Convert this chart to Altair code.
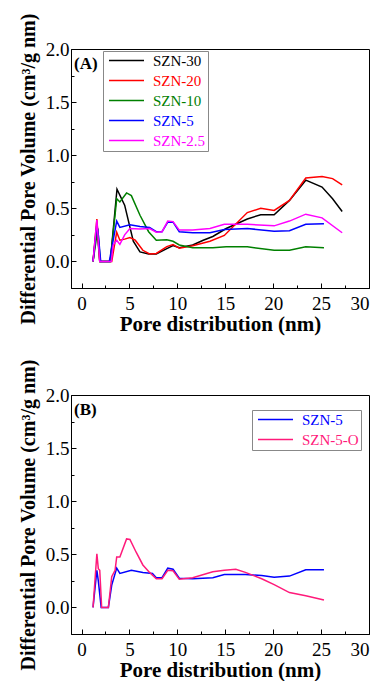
import altair as alt
import pandas as pd

FONT = "Liberation Serif"

# ---------- Panel A data ----------
a_names = ["SZN-30", "SZN-20", "SZN-10", "SZN-5", "SZN-2.5"]
a_colors = ["#000000", "#ff0000", "#008000", "#0000ff", "#ff00ff"]

szn30_x = [1.2, 1.6, 1.9, 3.0, 3.7, 4.5, 5.4, 6.1, 7.0, 7.8, 8.9, 9.55, 10.2, 11.6, 12.7, 13.7, 15.1, 17.3, 18.7, 20.1, 21.7, 23.4, 25.1, 26.2, 27.2]
szn30_y = [0, 0.33, 0, 0, 0.68, 0.53, 0.19, 0.09, 0.07, 0.07, 0.12, 0.15, 0.13, 0.155, 0.20, 0.235, 0.31, 0.40, 0.44, 0.44, 0.575, 0.765, 0.70, 0.59, 0.47]

szn20_x = [1.2, 1.6, 1.9, 3.15, 3.67, 4.0, 4.5, 5.05, 5.6, 6.4, 7.1, 7.8, 8.9, 9.55, 10.2, 11.6, 13.4, 14.9, 17.3, 18.7, 20.1, 21.7, 23.4, 25.1, 26.2, 27.2]
szn20_y = [0, 0.40, 0, 0, 0.275, 0.20, 0.21, 0.225, 0.20, 0.105, 0.07, 0.075, 0.14, 0.16, 0.125, 0.147, 0.19, 0.245, 0.46, 0.50, 0.48, 0.575, 0.785, 0.80, 0.78, 0.72]

szn10_x = [1.2, 1.7, 1.95, 3.0, 3.67, 4.0, 4.7, 5.2, 6.1, 7.0, 7.8, 8.9, 9.55, 10.2, 11.6, 13.7, 15.1, 17.3, 20.1, 21.7, 23.4, 25.3]
szn10_y = [0, 0.31, 0, 0, 0.59, 0.56, 0.645, 0.62, 0.435, 0.28, 0.20, 0.205, 0.19, 0.155, 0.13, 0.13, 0.138, 0.138, 0.105, 0.105, 0.138, 0.13]

szn5_x = [1.2, 1.6, 1.75, 2.0, 2.9, 3.15, 3.67, 4.0, 5.05, 6.1, 7.1, 7.8, 8.4, 9.0, 9.55, 10.2, 11.6, 13.4, 14.9, 17.3, 20.1, 21.7, 23.4, 25.3]
szn5_y = [0, 0.35, 0.25, 0, 0, 0.125, 0.38, 0.32, 0.345, 0.33, 0.32, 0.28, 0.28, 0.37, 0.37, 0.28, 0.27, 0.27, 0.30, 0.31, 0.285, 0.29, 0.35, 0.355]

szn25_x = [1.2, 1.6, 1.9, 3.1, 3.3, 3.67, 4.0, 4.5, 5.05, 6.1, 7.1, 7.8, 8.4, 9.0, 9.55, 10.2, 11.6, 13.4, 14.9, 17.3, 20.1, 21.7, 23.4, 25.1, 27.2]
szn25_y = [0, 0.39, 0, 0, 0.155, 0.20, 0.16, 0.25, 0.31, 0.305, 0.31, 0.275, 0.28, 0.38, 0.375, 0.295, 0.295, 0.31, 0.35, 0.35, 0.335, 0.38, 0.445, 0.41, 0.27]

# ---------- Panel B data ----------
b_names = ["SZN-5", "SZN-5-O"]
b_colors = ["#0000ff", "#ff1a7a"]

b5_x = [1.2, 1.6, 1.75, 2.05, 2.8, 3.15, 3.67, 4.0, 5.2, 6.4, 7.4, 7.8, 8.4, 9.0, 9.55, 10.2, 11.6, 13.7, 14.9, 17.1, 18.8, 20.1, 21.7, 23.4, 25.3]
b5_y = [0, 0.35, 0.25, 0, 0, 0.21, 0.37, 0.32, 0.35, 0.33, 0.32, 0.28, 0.28, 0.37, 0.36, 0.275, 0.27, 0.28, 0.31, 0.31, 0.30, 0.285, 0.295, 0.355, 0.355]

b5o_x = [1.2, 1.6, 1.75, 1.9, 2.1, 2.8, 3.15, 3.5, 3.67, 4.0, 4.7, 5.05, 5.7, 6.4, 7.1, 7.8, 8.4, 9.0, 9.55, 10.2, 11.6, 13.7, 14.9, 16.1, 17.1, 18.8, 20.1, 21.7, 23.4, 25.3]
b5o_y = [0, 0.505, 0.365, 0.35, 0, 0, 0.29, 0.35, 0.475, 0.475, 0.645, 0.64, 0.52, 0.40, 0.33, 0.27, 0.27, 0.35, 0.345, 0.265, 0.28, 0.335, 0.35, 0.36, 0.33, 0.27, 0.215, 0.14, 0.11, 0.07]

x_ticks = [i * 2.5 for i in range(13)]
y_ticks = [i * 0.25 for i in range(9)]


def long_df(names, xs, ys):
    rows = []
    for n, xl, yl in zip(names, xs, ys):
        for i, (xv, yv) in enumerate(zip(xl, yl)):
            rows.append({"series": n, "x": xv, "y": yv, "o": i})
    return pd.DataFrame(rows)


def color_expr(names, colors):
    expr = "'black'"
    for n, c in reversed(list(zip(names, colors))):
        expr = f"datum.value === '{n}' ? '{c}' : ({expr})"
    return expr


def panel(df, names, colors, tag, lx, ly):
    xaxis = alt.Axis(
        values=x_ticks,
        labelExpr="datum.value % 5 === 0 ? format(datum.value, 'd') : ''",
        tickSize={"condition": {"test": "datum.value % 5 === 0", "value": -5}, "value": -3},
        labelPadding=11,
        title="Pore distribution (nm)",
        titlePadding=0,
        grid=False,
    )
    yaxis = alt.Axis(
        values=y_ticks,
        labelExpr="datum.value % 0.5 === 0 ? format(datum.value, '.1f') : ''",
        tickSize={"condition": {"test": "datum.value % 0.5 === 0", "value": -5}, "value": -3},
        labelPadding=7,
        title="Differential Pore Volume (cm³/g nm)",
        titlePadding=7,
        grid=False,
    )
    lines = alt.Chart(df).mark_line(strokeWidth=1.5, clip=True).encode(
        x=alt.X("x:Q", scale=alt.Scale(domain=[-1.1, 30], nice=False, zero=False), axis=xaxis),
        y=alt.Y("y:Q", scale=alt.Scale(domain=[-0.25, 2.0], nice=False, zero=False), axis=yaxis),
        color=alt.Color(
            "series:N",
            scale=alt.Scale(domain=names, range=colors),
            legend=alt.Legend(
                title=None,
                orient="none",
                legendX=lx,
                legendY=ly,
                symbolType="M-1,0H9",
                symbolSize=49,
                symbolStrokeWidth=1.5,
                labelFont=FONT,
                labelFontSize=15,
                labelColor=alt.ExprRef(color_expr(names, colors)),
                labelOffset=33,
                padding=2,
                rowPadding=4,
                strokeColor="#888888",
                fillColor="white",
            ),
        ),
        order="o:Q",
    )
    label = alt.Chart(pd.DataFrame({"t": [tag]})).mark_text(
        align="left", baseline="middle", font=FONT, fontWeight="bold", fontSize=17, color="black"
    ).encode(text="t:N", x=alt.value(3), y=alt.value(15))
    return alt.layer(lines, label).properties(width=298, height=239)


dfa = long_df(a_names, [szn30_x, szn20_x, szn10_x, szn5_x, szn25_x], [szn30_y, szn20_y, szn10_y, szn5_y, szn25_y])
dfb = long_df(b_names, [b5_x, b5o_x], [b5_y, b5o_y])

chart = alt.vconcat(
    panel(dfa, a_names, a_colors, "(A)", 32, 2),
    panel(dfb, b_names, b_colors, "(B)", 181, 15),
    spacing=23,
).resolve_scale(color="independent").properties(
    padding={"left": 9, "top": 4, "right": 0, "bottom": 0}, background="white"
).configure_view(stroke="black", strokeWidth=1).configure_axis(
    labelFont=FONT, labelFontSize=19, labelColor="black",
    titleFont=FONT, titleFontSize=20, titleFontWeight="bold", titleColor="black",
    domainColor="black", tickColor="black", domainWidth=1, tickWidth=1,
).configure_axisX(titleFontSize=21)

chart.save("out.html", embed_options={"renderer": "svg", "actions": False})
